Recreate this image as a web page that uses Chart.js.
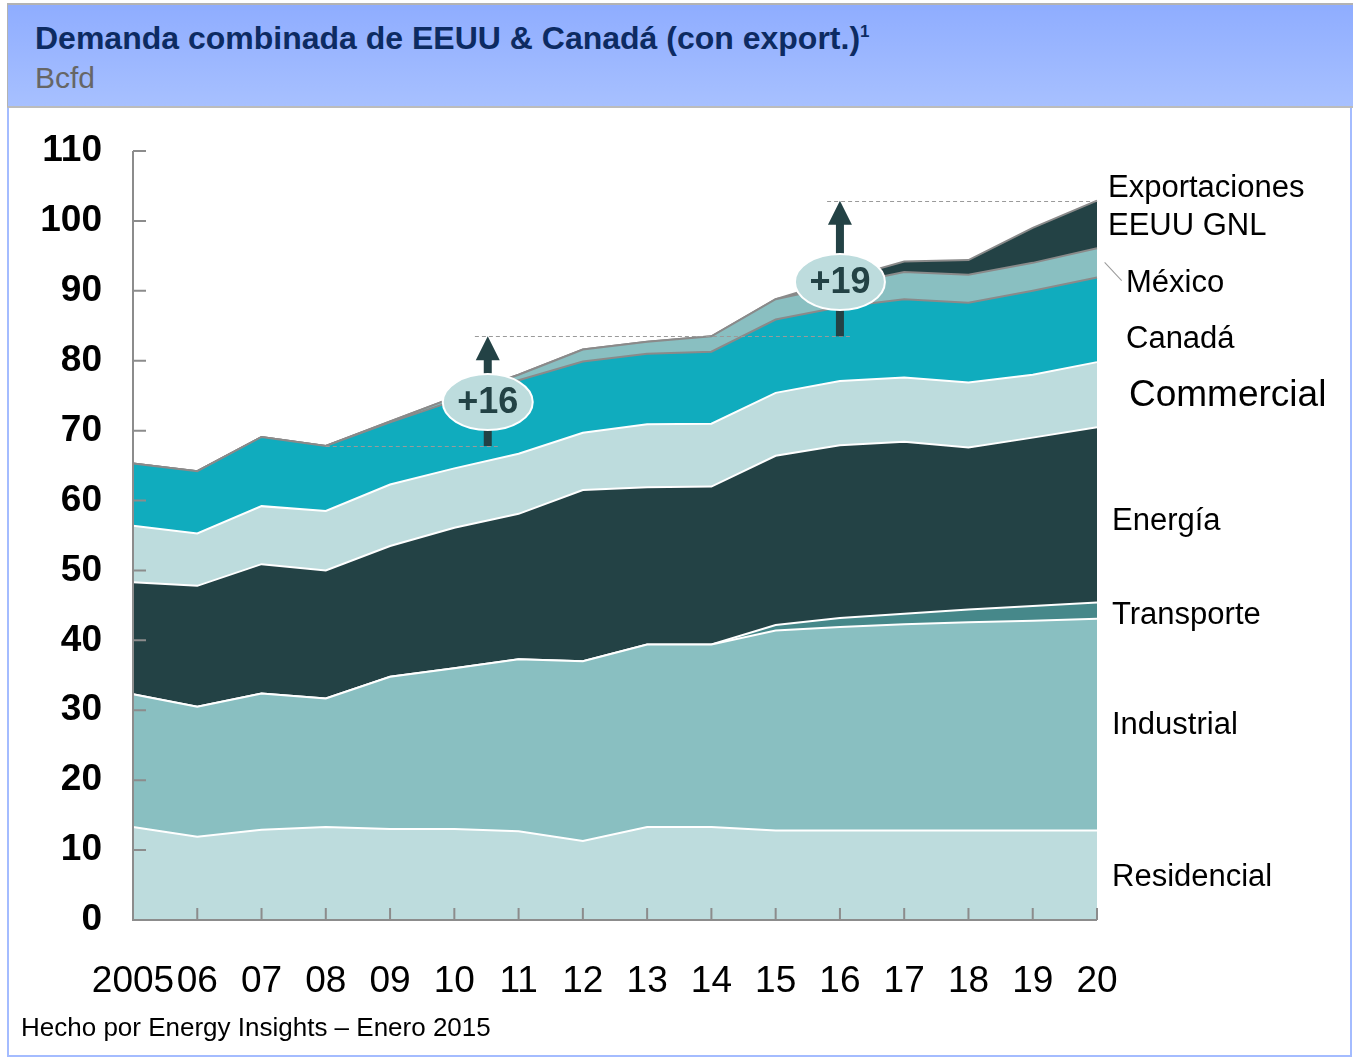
<!DOCTYPE html>
<html lang="es">
<head>
<meta charset="utf-8">
<title>Demanda combinada de EEUU &amp; Canadá</title>
<script src="https://cdn.jsdelivr.net/npm/chart.js@4.4.1/dist/chart.umd.min.js"></script>
<style>
  html, body { margin: 0; padding: 0; background: #fff; }
  body { width: 1353px; height: 1059px; position: relative; overflow: hidden; font-family: "Liberation Sans", Arial, sans-serif; }
  #c { position: absolute; left: 0; top: 0; }
  #head { position: absolute; left: 7px; top: 3px; width: 1346px; height: 101px; box-sizing: content-box;
          border-top: 2px solid #b3b3b3; border-bottom: 2px solid #bcbcbc; border-left: 1px solid #b3b3b3;
          background: linear-gradient(#8fadff, #a7c0ff); }
  #head .t { position: absolute; left: 27px; top: 17px; font-size: 32px; line-height: 32px; font-weight: bold; color: #0d2b62; white-space: nowrap; }
  #head .t sup { font-size: 17px; vertical-align: 12px; line-height: 0; }
  #head .u { position: absolute; left: 27px; top: 58px; font-size: 30px; line-height: 30px; color: #666; }
  #frame { position: absolute; left: 7px; top: 106px; width: 1341px; height: 949px; border-left: 2px solid #a4bcff; border-right: 2px solid #a4bcff; border-bottom: 2px solid #a4bcff; }
  .lbl { position: absolute; font-size: 31px; line-height: 31px; color: #000; white-space: nowrap; }
  #nota { position: absolute; left: 21px; top: 1014px; font-size: 26px; line-height: 26px; color: #000; white-space: nowrap; }
  #mxline { position: absolute; left: 1105px; top: 262px; width: 25px; height: 1px; background: #9a9a9a; transform-origin: 0 0; transform: rotate(47deg); }
</style>
</head>
<body>
<div id="frame"></div>
<canvas id="c" width="1353" height="1059"></canvas>
<div id="head">
  <div class="t">Demanda combinada de EEUU &amp; Canadá (con export.)<sup>1</sup></div>
  <div class="u">Bcfd</div>
</div>
<div class="lbl" style="left:1108px;top:171px">Exportaciones</div>
<div class="lbl" style="left:1108px;top:209px">EEUU GNL</div>
<div id="mxline"></div>
<div class="lbl" style="left:1126px;top:266px">México</div>
<div class="lbl" style="left:1126px;top:322px">Canadá</div>
<div class="lbl" style="left:1129px;top:375px;font-size:37px;line-height:37px">Commercial</div>
<div class="lbl" style="left:1112px;top:504px">Energía</div>
<div class="lbl" style="left:1112px;top:598px">Transporte</div>
<div class="lbl" style="left:1112px;top:708px">Industrial</div>
<div class="lbl" style="left:1112px;top:860px">Residencial</div>
<div id="nota">Hecho por Energy Insights – Enero 2015</div>
<script>
/* datos (Bcfd) */
const years = ['2005', '06', '07', '08', '09', '10', '11', '12', '13', '14', '15', '16', '17', '18', '19', '20'];
const residencial = [13.3, 11.9, 12.9, 13.3, 13.0, 13.0, 12.7, 11.3, 13.3, 13.3, 12.8, 12.8, 12.8, 12.8, 12.8, 12.8];
const industrial = [19.0, 18.6, 19.5, 18.4, 21.8, 23.0, 24.6, 25.7, 26.1, 26.1, 28.6, 29.1, 29.5, 29.8, 30.0, 30.3];
const transporte = [0, 0, 0, 0, 0, 0, 0, 0, 0, 0, 0.8, 1.3, 1.5, 1.8, 2.1, 2.3];
const energia = [16.0, 17.3, 18.5, 18.3, 18.7, 20.1, 20.8, 24.5, 22.5, 22.6, 24.2, 24.7, 24.6, 23.2, 24.1, 25.1];
const commercial = [8.1, 7.5, 8.3, 8.5, 8.8, 8.5, 8.6, 8.2, 9.0, 9.0, 9.0, 9.2, 9.2, 9.3, 9.0, 9.3];
const canada = [8.9, 8.9, 9.9, 9.3, 8.9, 9.7, 10.5, 10.2, 10.1, 10.3, 10.5, 10.6, 11.2, 11.4, 12.0, 12.1];
const mexico = [0, 0, 0, 0, 0.1, 0.5, 0.8, 1.7, 1.7, 2.2, 2.9, 3.1, 3.9, 4.0, 4.0, 4.2];
const exportGnl = [0, 0, 0, 0, 0, 0, 0, 0, 0, 0, 0, 0.8, 1.5, 2.1, 5.0, 6.8];
const yTicks = [0, 10, 20, 30, 40, 50, 60, 70, 80, 90, 100, 110];

/* anotaciones: de que año a que año crece, y texto */
const growth = [
  { from: 3, to: 9, at: 5.52, text: '+16', dashFrom: [3, 5.7], dashTo: [5.32, 11.16] },
  { from: 9, to: 15, at: 11, text: '+19', dashFrom: null, dashTo: [10.8, 15] }
];

const series = [residencial, industrial, transporte, energia, commercial, canada, mexico, exportGnl];
const total = i => series.reduce((s, arr) => s + arr[i], 0);

const dark = '#234245';
const area = (label, data, color, border, first) => ({
  label, data,
  backgroundColor: color,
  borderColor: border,
  borderWidth: 2,
  fill: first ? 'origin' : '-1',
  pointRadius: 0,
  tension: 0
});

/* ejes, ticks hacia adentro y flechas */
const deco = {
  id: 'deco',
  afterDatasetsDraw(chart) {
    const { ctx, chartArea: a, scales: { x, y } } = chart;
    ctx.save();
    ctx.strokeStyle = '#8c8c8c';
    ctx.lineWidth = 2;
    ctx.beginPath();
    ctx.moveTo(a.left, y.getPixelForValue(110));
    ctx.lineTo(a.left, a.bottom);
    ctx.lineTo(a.right, a.bottom);
    y.ticks.forEach(t => {
      const py = y.getPixelForValue(t.value);
      ctx.moveTo(a.left, py);
      ctx.lineTo(a.left + 13, py);
    });
    x.ticks.forEach((t, i) => {
      if (i === 0) return;
      const px = x.getPixelForTick(i);
      ctx.moveTo(px, a.bottom);
      ctx.lineTo(px, a.bottom - 12);
    });
    ctx.stroke();

    // lineas punteadas
    ctx.strokeStyle = '#9a9a9a';
    ctx.lineWidth = 1;
    ctx.setLineDash([4, 3]);
    growth.forEach(g => {
      ctx.beginPath();
      if (g.dashFrom) {
        const yy = Math.round(y.getPixelForValue(total(g.from))) + 0.5;
        ctx.moveTo(x.getPixelForValue(g.dashFrom[0]), yy);
        ctx.lineTo(x.getPixelForValue(g.dashFrom[1]), yy);
      }
      const yt = Math.round(y.getPixelForValue(total(g.to))) + 0.5;
      ctx.moveTo(x.getPixelForValue(g.dashTo[0]), yt);
      ctx.lineTo(x.getPixelForValue(g.dashTo[1]), yt);
      ctx.stroke();
    });
    ctx.setLineDash([]);

    // flechas con globo
    growth.forEach(g => {
      const px = x.getPixelForValue(g.at);
      const y0 = y.getPixelForValue(total(g.from));
      const y1 = y.getPixelForValue(total(g.to));
      ctx.fillStyle = dark;
      ctx.fillRect(px - 4, y1 + 20, 8, y0 - y1 - 20);
      ctx.beginPath();
      ctx.moveTo(px, y1);
      ctx.lineTo(px - 12, y1 + 24);
      ctx.lineTo(px + 12, y1 + 24);
      ctx.closePath();
      ctx.fill();
      const cy = y0 - (y0 - y1) * 0.4;
      ctx.beginPath();
      ctx.ellipse(px, cy, 45, 28, 0, 0, Math.PI * 2);
      ctx.fillStyle = '#bddcdd';
      ctx.fill();
      ctx.strokeStyle = '#ffffff';
      ctx.lineWidth = 2;
      ctx.stroke();
      ctx.fillStyle = dark;
      ctx.font = 'bold 36px "Liberation Sans", Arial, sans-serif';
      ctx.textAlign = 'center';
      ctx.textBaseline = 'middle';
      ctx.fillText(g.text, px, cy + 1);
    });
    ctx.restore();
  }
};

Chart.defaults.font.family = '"Liberation Sans", Arial, sans-serif';
Chart.defaults.color = '#000';

new Chart(document.getElementById('c'), {
  type: 'line',
  data: {
    labels: years,
    datasets: [
      area('Residencial', residencial, '#bddcdd', '#ffffff', true),
      area('Industrial', industrial, '#89bfc1', '#ffffff'),
      area('Transporte', transporte, '#46888a', '#ffffff'),
      area('Energía', energia, dark, '#ffffff'),
      area('Commercial', commercial, '#bddcdd', '#ffffff'),
      area('Canadá', canada, '#10acbe', '#8a8a8a'),
      area('México', mexico, '#89bfc1', '#8a8a8a'),
      area('Exportaciones EEUU GNL', exportGnl, dark, '#8a8a8a')
    ]
  },
  options: {
    responsive: false,
    animation: false,
    layout: { padding: { top: 151, right: 256, bottom: 39, left: 0 } },
    plugins: { legend: { display: false }, tooltip: { enabled: false } },
    scales: {
      x: {
        offset: false,
        grid: { display: false, drawTicks: false },
        border: { display: false },
        ticks: { autoSkip: false, maxRotation: 0, padding: 40, font: { size: 37 } },
        afterFit: s => { s.height = 100; }
      },
      y: {
        stacked: true,
        min: 0,
        max: 110,
        grid: { display: false, drawTicks: false },
        border: { display: false },
        afterBuildTicks: s => { s.ticks = yTicks.map(v => ({ value: v })); },
        ticks: { padding: 31, font: { size: 37, weight: 'bold' } },
        afterFit: s => { s.width = 133; }
      }
    }
  },
  plugins: [deco]
});
</script>
</body>
</html>
